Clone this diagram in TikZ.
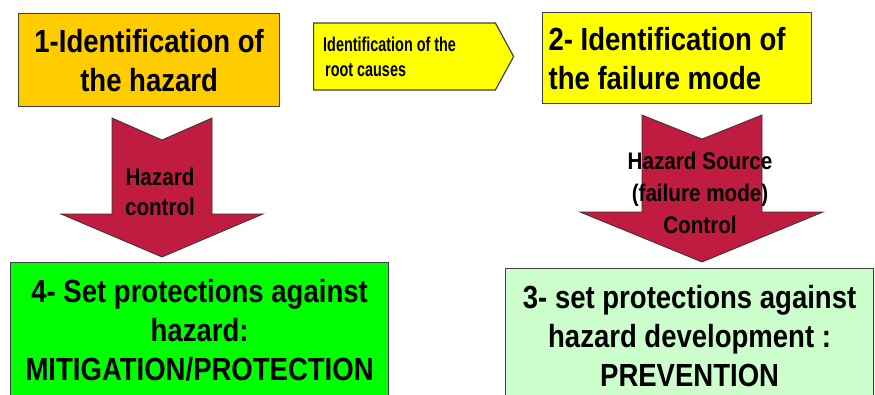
\documentclass[tikz,border=0pt]{standalone}
\usepackage{fontspec}
\newfontfamily\condsans{Liberation Sans}[FakeStretch=0.86]
\newfontfamily\narrowsans{Liberation Sans}[FakeStretch=0.72]
\usepackage{xcolor}
\usepackage{tikz}
\usetikzlibrary{shapes.symbols}

\definecolor{hazardorange}{RGB}{255,204,0}
\definecolor{failureyellow}{RGB}{255,255,0}
\definecolor{mitigationgreen}{RGB}{0,255,0}
\definecolor{preventiongreen}{RGB}{204,255,204}
\definecolor{controlred}{RGB}{192,28,64}

\begin{document}
\begin{tikzpicture}[
    x=1pt, y=-1pt,
    block/.style={rectangle, draw=black!75, line width=1.2pt, inner sep=0pt, anchor=north west, align=center, font=\condsans\bfseries\fontsize{32}{39}\selectfont},
    tag/.style={signal, signal to=east, signal pointer angle=123, draw=black!75, fill=failureyellow, line width=1.2pt, inner sep=0pt, anchor=west},
    bigarrow/.style={fill=controlred, draw=black!80, line width=0.8pt},
    arrowtext/.style={align=center, font=\condsans\bfseries\fontsize{24}{30}\selectfont}
]
    \useasboundingbox (0,0) rectangle (875,394);
    \clip (0,0) rectangle (875,394);

    % Boxes
    \node (hazard) [block, fill=hazardorange, minimum width=261, minimum height=93] at (18,13) {1-Identification of\\the hazard};

    \node (failure) [block, fill=failureyellow, minimum width=269, minimum height=91, inner xsep=6pt, text width=257, align=flush left] at (542,12) {2- Identification of\\the failure mode};

    \node (causes) [tag, minimum width=200, minimum height=67] at (313,56.5) {};
    \node (causestext) [anchor=west, align=left, inner sep=0pt, font=\narrowsans\bfseries\fontsize{20}{25}\selectfont] at ([xshift=10]causes.west) {Identification of the\\\hspace{2pt}root causes};

    \node (mitigation) [block, fill=mitigationgreen, minimum width=378, minimum height=136] at (10,262) {4- Set protections against\\hazard:\\MITIGATION/PROTECTION};

    \node (prevention) [block, fill=preventiongreen, minimum width=368, minimum height=134] at (505,268) {3- set protections against\\hazard development :\\PREVENTION};

    % Control arrows
    \draw [bigarrow] (112,118) -- (162,140) -- (212,118) -- (212,214) -- (263,214) -- (162,257) -- (61,214) -- (112,214) -- cycle;
    \node (hazardcontrol) [arrowtext] at (160,192) {Hazard\\control};

    \draw [bigarrow] (642,115) -- (702,139) -- (762,115) -- (762,212) -- (823,212) -- (702,262) -- (580,212) -- (642,212) -- cycle;
    \node (sourcecontrol) [arrowtext, font=\condsans\bfseries\fontsize{24}{32}\selectfont] at (700,193) {Hazard Source\\(failure mode)\\Control};

\end{tikzpicture}
\end{document}
